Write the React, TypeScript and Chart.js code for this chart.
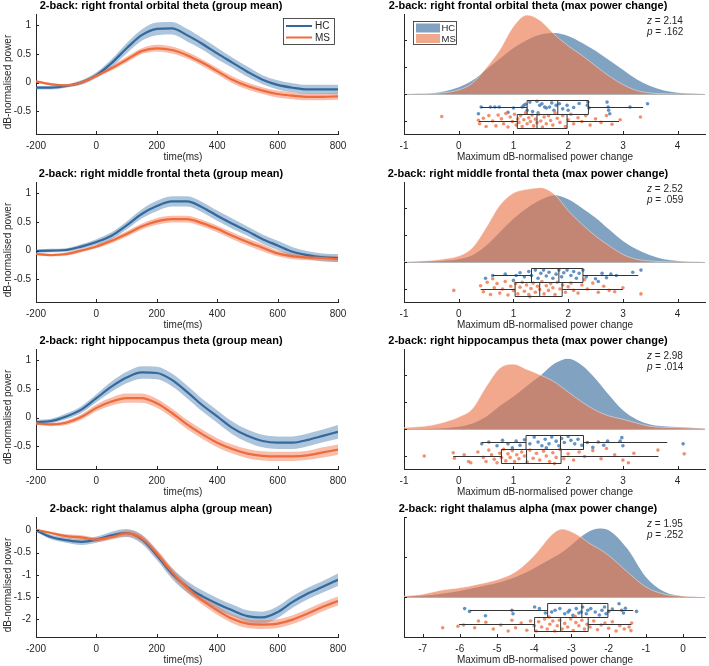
import { useEffect, useRef } from "react";
import { Chart, registerables } from "chart.js";

Chart.register(...registerables);

const FONT = '"Liberation Sans", Arial, Helvetica, sans-serif';
const TEXT = "#262626";
const HC_LINE = "#33699b";
const MS_LINE = "#ee6b3c";
const HC_BAND = "rgba(70,125,178,0.45)";
const MS_BAND = "rgba(240,120,80,0.48)";
const HC_DENS = "rgb(129,163,193)";
const MS_DENS = "rgba(233,118,74,0.635)";
const HC_DOT = "rgba(72,128,186,0.85)";
const MS_DOT = "rgba(240,125,85,0.85)";

// ---------- group-mean time courses ----------
const TIME_MS = [-200, -150, -100, -50, 0, 50, 100, 150, 200, 250, 300, 350, 400, 450, 500, 550, 600, 650, 700, 750, 800];
const TIME_TICKS = [-200, 0, 200, 400, 600, 800];
const THETA_Y_TICKS = [-0.5, 0, 0.5, 1];
const ALPHA_Y_TICKS = [-2, -1.5, -1, -0.5, 0];

const FO_HC = [-0.09, -0.09, -0.06, 0.0, 0.13, 0.34, 0.6, 0.83, 0.94, 0.95, 0.83, 0.68, 0.51, 0.35, 0.19, 0.05, -0.04, -0.09, -0.12, -0.12, -0.12];
const FO_HC_SEM = [0.03, 0.03, 0.03, 0.04, 0.05, 0.07, 0.09, 0.1, 0.11, 0.11, 0.11, 0.1, 0.1, 0.09, 0.09, 0.08, 0.08, 0.08, 0.08, 0.08, 0.08];
const FO_MS = [0.02, -0.03, -0.05, 0.0, 0.12, 0.25, 0.4, 0.55, 0.6, 0.57, 0.48, 0.35, 0.2, 0.05, -0.06, -0.14, -0.2, -0.23, -0.25, -0.25, -0.24];
const FO_MS_SEM = [0.02, 0.02, 0.02, 0.03, 0.03, 0.04, 0.05, 0.05, 0.06, 0.06, 0.06, 0.06, 0.06, 0.06, 0.06, 0.06, 0.06, 0.06, 0.06, 0.06, 0.06];

const MF_HC = [-0.01, 0.0, 0.01, 0.07, 0.15, 0.26, 0.44, 0.64, 0.78, 0.86, 0.86, 0.76, 0.61, 0.47, 0.34, 0.2, 0.09, -0.02, -0.08, -0.12, -0.13];
const MF_HC_SEM = [0.03, 0.03, 0.03, 0.04, 0.05, 0.06, 0.07, 0.08, 0.09, 0.09, 0.09, 0.09, 0.09, 0.09, 0.08, 0.08, 0.08, 0.08, 0.07, 0.07, 0.07];
const MF_MS = [-0.06, -0.08, -0.06, 0.0, 0.07, 0.17, 0.29, 0.42, 0.51, 0.55, 0.55, 0.48, 0.38, 0.26, 0.15, 0.05, -0.05, -0.1, -0.12, -0.13, -0.15];
const MF_MS_SEM = [0.02, 0.02, 0.03, 0.03, 0.03, 0.04, 0.05, 0.05, 0.06, 0.06, 0.06, 0.06, 0.06, 0.06, 0.06, 0.06, 0.05, 0.05, 0.05, 0.05, 0.05];

const HP_HC = [-0.08, -0.06, 0.02, 0.14, 0.34, 0.54, 0.7, 0.79, 0.78, 0.66, 0.45, 0.22, 0.02, -0.18, -0.32, -0.41, -0.44, -0.44, -0.39, -0.32, -0.25];
const HP_HC_SEM = [0.04, 0.04, 0.05, 0.06, 0.07, 0.09, 0.1, 0.11, 0.11, 0.11, 0.11, 0.11, 0.11, 0.11, 0.11, 0.11, 0.11, 0.11, 0.11, 0.11, 0.12];
const HP_MS = [-0.1, -0.12, -0.09, 0.01, 0.17, 0.28, 0.34, 0.34, 0.25, 0.08, -0.12, -0.29, -0.44, -0.55, -0.63, -0.67, -0.68, -0.68, -0.66, -0.61, -0.56];
const HP_MS_SEM = [0.03, 0.03, 0.04, 0.05, 0.06, 0.07, 0.08, 0.08, 0.08, 0.08, 0.08, 0.08, 0.08, 0.08, 0.08, 0.08, 0.08, 0.08, 0.08, 0.09, 0.09];

const TH_HC = [0.0, -0.15, -0.22, -0.26, -0.21, -0.11, -0.06, -0.2, -0.56, -0.97, -1.27, -1.48, -1.65, -1.8, -1.93, -1.96, -1.84, -1.61, -1.42, -1.27, -1.11];
const TH_HC_SEM = [0.03, 0.05, 0.06, 0.07, 0.07, 0.08, 0.09, 0.1, 0.11, 0.12, 0.13, 0.13, 0.13, 0.13, 0.13, 0.13, 0.13, 0.13, 0.13, 0.13, 0.14];
const TH_MS = [0.01, -0.06, -0.13, -0.16, -0.21, -0.15, -0.07, -0.18, -0.52, -0.94, -1.29, -1.57, -1.8, -1.99, -2.1, -2.12, -2.1, -2.01, -1.87, -1.72, -1.59];
const TH_MS_SEM = [0.02, 0.03, 0.04, 0.05, 0.05, 0.06, 0.07, 0.08, 0.09, 0.1, 0.1, 0.1, 0.1, 0.1, 0.1, 0.1, 0.1, 0.1, 0.1, 0.1, 0.1];

// ---------- max power change (raincloud) ----------
const THETA_X_TICKS = [-1, 0, 1, 2, 3, 4];
const ALPHA_X_TICKS = [-7, -6, -5, -4, -3, -2, -1, 0];
const DENSITY_TICKS = [-1, 0, 1, 2];

const THETA_DENS_X = [-1, -0.5, -0.25, 0, 0.25, 0.5, 0.75, 1, 1.25, 1.5, 1.75, 2, 2.25, 2.5, 2.75, 3, 3.25, 3.5, 3.75, 4, 4.5];
const FO_DENS_HC = [0, 0.03, 0.1, 0.25, 0.5, 0.9, 1.3, 1.7, 2.0, 2.2, 2.26, 2.15, 1.9, 1.6, 1.25, 0.9, 0.55, 0.3, 0.13, 0.05, 0];
const FO_DENS_MS = [0, 0.02, 0.05, 0.15, 0.4, 0.96, 1.63, 2.5, 2.92, 2.7, 2.2, 1.78, 1.43, 1.04, 0.66, 0.35, 0.13, 0.04, 0.01, 0, 0];
const MF_DENS_HC = [0, 0.02, 0.05, 0.1, 0.25, 0.6, 1.1, 1.6, 2.0, 2.3, 2.47, 2.32, 2.0, 1.64, 1.2, 0.78, 0.47, 0.25, 0.1, 0.04, 0];
const MF_DENS_MS = [0.01, 0.06, 0.12, 0.22, 0.53, 1.27, 2.1, 2.55, 2.69, 2.75, 2.5, 1.9, 1.4, 0.96, 0.6, 0.28, 0.1, 0.04, 0.01, 0, 0];
const HP_DENS_HC = [0, 0.01, 0.03, 0.08, 0.2, 0.45, 0.85, 1.2, 1.6, 1.99, 2.42, 2.6, 2.36, 1.86, 1.25, 0.69, 0.35, 0.17, 0.1, 0.07, 0.02];
const HP_DENS_MS = [0.05, 0.14, 0.26, 0.44, 0.75, 1.56, 2.25, 2.4, 2.2, 1.99, 1.74, 1.37, 1.0, 0.69, 0.48, 0.36, 0.22, 0.1, 0.06, 0.05, 0.02];
const ALPHA_DENS_X = [-7.5, -7, -6.5, -6, -5.5, -5, -4.5, -4, -3.5, -3.25, -3, -2.75, -2.5, -2.25, -2, -1.5, -1, -0.5, 0, 0.5];
const TH_DENS_HC = [0.01, 0.03, 0.08, 0.15, 0.25, 0.35, 0.5, 0.72, 0.98, 1.12, 1.3, 1.5, 1.65, 1.71, 1.67, 1.21, 0.5, 0.13, 0.02, 0];
const TH_DENS_MS = [0.02, 0.07, 0.17, 0.23, 0.32, 0.43, 0.63, 1.04, 1.58, 1.7, 1.63, 1.5, 1.33, 1.2, 1.04, 0.63, 0.25, 0.07, 0.02, 0];

// box stats: [lower whisker, q1, median, q3, upper whisker]
const FO_BOX_HC = [0.4, 1.25, 1.81, 2.37, 3.37];
const FO_BOX_MS = [0.37, 1.07, 1.43, 1.98, 2.93];
const MF_BOX_HC = [0.62, 1.33, 1.83, 2.27, 3.28];
const MF_BOX_MS = [0.4, 1.03, 1.48, 1.89, 3.0];
const HP_BOX_HC = [0.42, 1.23, 1.86, 2.28, 3.81];
const HP_BOX_MS = [-0.1, 0.78, 1.24, 1.87, 3.65];
const TH_BOX_HC = [-5.73, -3.64, -2.72, -2.02, -1.34];
const TH_BOX_MS = [-6.02, -3.99, -3.29, -2.55, -1.39];

// individual participants: [value, jitter]
const FO_PTS_HC = [[0.36, -0.73], [0.41, -0.48], [0.58, -0.48], [0.66, -0.48], [0.74, -0.48], [0.9, -0.68], [1.0, -0.52], [1.16, -0.48], [1.19, -0.42], [1.22, -0.38], [1.25, -0.6], [1.3, -0.3], [1.35, -0.65], [1.43, -0.27], [1.45, -0.7], [1.48, -0.42], [1.52, -0.36], [1.57, -0.48], [1.6, -0.52], [1.66, -0.48], [1.7, -0.33], [1.74, -0.6], [1.78, -0.42], [1.84, -0.36], [1.9, -0.55], [1.98, -0.42], [2.0, -0.6], [2.1, -0.5], [2.2, -0.35], [2.35, -0.42], [2.36, -0.3], [2.38, -0.52], [2.71, -0.3], [2.73, -0.48], [2.74, -0.6], [2.76, -0.73], [3.13, -0.48], [3.45, -0.36]];
const FO_PTS_MS = [[-0.31, -0.83], [0.36, -0.97], [0.38, -1.1], [0.45, -0.9], [0.5, -1.2], [0.55, -0.8], [0.62, -1.0], [0.68, -1.18], [0.72, -0.78], [0.78, -0.92], [0.82, -1.1], [0.86, -0.72], [0.9, -1.22], [0.94, -0.85], [0.98, -1.02], [1.02, -0.75], [1.05, -1.15], [1.08, -0.92], [1.1, -1.05], [1.13, -0.8], [1.16, -1.2], [1.19, -0.95], [1.22, -0.7], [1.25, -1.1], [1.28, -0.88], [1.31, -1.02], [1.34, -0.78], [1.37, -1.18], [1.4, -0.93], [1.43, -1.06], [1.46, -0.75], [1.5, -1.0], [1.53, -1.22], [1.56, -0.85], [1.6, -1.1], [1.64, -0.8], [1.68, -0.98], [1.72, -1.15], [1.76, -0.7], [1.8, -0.9], [1.85, -1.05], [1.9, -0.8], [1.95, -1.2], [2.0, -0.95], [2.05, -0.75], [2.1, -1.1], [2.18, -0.88], [2.25, -1.02], [2.32, -0.8], [2.4, -1.15], [2.5, -0.92], [2.6, -1.05], [2.7, -0.8], [2.8, -1.12], [2.95, -0.95], [3.32, -0.85]];
const MF_PTS_HC = [[0.49, -0.6], [0.62, -0.5], [0.85, -0.45], [1.0, -0.68], [1.05, -0.5], [1.12, -0.4], [1.2, -0.55], [1.28, -0.35], [1.33, -0.5], [1.4, -0.3], [1.45, -0.6], [1.5, -0.42], [1.55, -0.3], [1.6, -0.52], [1.65, -0.38], [1.72, -0.6], [1.78, -0.45], [1.83, -0.3], [1.88, -0.55], [1.92, -0.4], [1.98, -0.3], [2.05, -0.5], [2.1, -0.35], [2.15, -0.6], [2.2, -0.42], [2.27, -0.3], [2.33, -0.55], [2.5, -0.62], [2.55, -0.72], [2.62, -0.42], [2.7, -0.58], [2.78, -0.45], [2.88, -0.5], [3.18, -0.38], [3.33, -0.3]];
const MF_PTS_MS = [[-0.09, -1.05], [0.4, -0.88], [0.45, -1.1], [0.52, -0.75], [0.58, -1.2], [0.62, -0.62], [0.65, -0.95], [0.7, -0.8], [0.75, -1.15], [0.8, -1.0], [0.85, -0.72], [0.9, -1.22], [0.95, -0.9], [1.0, -1.05], [1.04, -0.8], [1.08, -1.18], [1.12, -0.93], [1.16, -0.75], [1.2, -1.08], [1.24, -0.85], [1.28, -1.2], [1.3, -1.28], [1.32, -0.98], [1.36, -0.78], [1.4, -1.12], [1.44, -0.9], [1.48, -1.02], [1.52, -0.72], [1.56, -1.18], [1.6, -0.88], [1.64, -1.05], [1.68, -0.8], [1.72, -0.95], [1.76, -1.2], [1.8, -0.75], [1.85, -1.0], [1.9, -0.85], [1.95, -1.12], [2.0, -0.92], [2.05, -0.78], [2.1, -1.05], [2.18, -1.15], [2.25, -0.85], [2.3, -0.65], [2.35, -1.0], [2.45, -0.78], [2.55, -1.12], [2.65, -0.9], [2.75, -1.05], [2.85, -1.1], [3.0, -0.95], [3.33, -1.18]];
const HP_PTS_HC = [[0.42, -0.55], [0.55, -0.48], [0.7, -0.62], [0.8, -0.42], [0.9, -0.55], [0.98, -0.7], [1.05, -0.45], [1.12, -0.6], [1.2, -0.4], [1.3, -0.55], [1.38, -0.3], [1.45, -0.48], [1.52, -0.62], [1.58, -0.38], [1.6, -0.7], [1.65, -0.55], [1.7, -0.3], [1.78, -0.45], [1.83, -0.62], [1.88, -0.35], [1.93, -0.5], [2.0, -0.28], [2.05, -0.42], [2.12, -0.55], [2.18, -0.38], [2.25, -0.6], [2.35, -0.5], [2.45, -0.68], [2.55, -0.48], [2.65, -0.6], [2.72, -0.45], [2.95, -0.45], [2.98, -0.32], [3.0, -0.62], [4.1, -0.55]];
const HP_PTS_MS = [[-0.63, -1.0], [-0.1, -0.88], [-0.08, -1.08], [0.1, -0.95], [0.18, -1.2], [0.22, -1.25], [0.35, -0.85], [0.45, -1.05], [0.5, -1.2], [0.55, -0.78], [0.6, -0.95], [0.65, -1.12], [0.7, -1.25], [0.75, -0.9], [0.78, -1.05], [0.82, -0.75], [0.86, -1.18], [0.9, -0.92], [0.94, -1.05], [0.98, -0.8], [1.02, -1.2], [1.06, -0.95], [1.1, -1.1], [1.15, -0.85], [1.2, -1.0], [1.25, -1.22], [1.3, -0.78], [1.36, -1.08], [1.42, -0.9], [1.48, -1.15], [1.55, -0.82], [1.6, -1.0], [1.66, -1.2], [1.72, -0.88], [1.75, -1.28], [1.78, -1.05], [1.85, -0.75], [1.92, -1.1], [2.0, -0.92], [2.1, -1.15], [2.2, -0.85], [2.3, -1.02], [2.45, -0.8], [2.6, -1.1], [2.7, -0.72], [2.85, -0.95], [3.0, -1.15], [3.1, -1.25], [3.2, -0.9], [3.64, -0.78], [4.12, -0.92]];
const TH_PTS_HC = [[-5.87, -0.29], [-5.74, -0.36], [-5.31, -0.47], [-4.6, -0.33], [-4.57, -0.42], [-3.99, -0.25], [-3.86, -0.29], [-3.7, -0.4], [-3.53, -0.375], [-3.44, -0.33], [-3.31, -0.29], [-3.18, -0.42], [-3.09, -0.375], [-3.05, -0.33], [-2.96, -0.46], [-2.87, -0.29], [-2.8, -0.4], [-2.74, -0.375], [-2.7, -0.25], [-2.6, -0.42], [-2.56, -0.33], [-2.48, -0.29], [-2.36, -0.375], [-2.25, -0.45], [-2.18, -0.33], [-2.11, -0.25], [-2.07, -0.42], [-2.0, -0.36], [-1.9, -0.3], [-1.72, -0.17], [-1.65, -0.33], [-1.6, -0.4], [-1.55, -0.28], [-1.25, -0.36]];
const TH_PTS_MS = [[-6.46, -0.77], [-6.05, -0.73], [-5.9, -0.7], [-5.6, -0.77], [-5.5, -0.6], [-5.3, -0.63], [-5.1, -0.8], [-4.9, -0.7], [-4.7, -0.85], [-4.6, -0.58], [-4.5, -0.77], [-4.35, -0.65], [-4.2, -0.83], [-4.1, -0.6], [-4.0, -0.72], [-3.95, -0.85], [-3.88, -0.62], [-3.8, -0.75], [-3.72, -0.55], [-3.65, -0.8], [-3.6, -0.5], [-3.58, -0.68], [-3.5, -0.6], [-3.45, -0.85], [-3.38, -0.72], [-3.32, -0.58], [-3.25, -0.8], [-3.18, -0.66], [-3.1, -0.75], [-3.02, -0.55], [-2.95, -0.84], [-2.9, -0.48], [-2.88, -0.64], [-2.8, -0.72], [-2.72, -0.58], [-2.65, -0.8], [-2.58, -0.68], [-2.5, -0.75], [-2.4, -0.6], [-2.3, -0.82], [-2.2, -0.7], [-2.1, -0.65], [-2.0, -0.78], [-1.9, -0.62], [-1.8, -0.85], [-1.7, -0.72], [-1.58, -0.8], [-1.45, -0.75], [-1.4, -0.84], [-1.38, -0.65]];

const GM_TITLES = [
  "2-back: right frontal orbital theta (group mean)",
  "2-back: right middle frontal theta (group mean)",
  "2-back: right hippocampus theta (group mean)",
  "2-back: right thalamus alpha (group mean)",
];
const MP_TITLES = [
  "2-back: right frontal orbital theta (max power change)",
  "2-back: right middle frontal theta (max power change)",
  "2-back: right hippocampus theta (max power change)",
  "2-back: right thalamus alpha (max power change)",
];
const Z_VALUES = ["2.14", "2.52", "2.98", "1.95"];
const P_VALUES = [".162", ".059", ".014", ".252"];
const GROUPS = ["HC", "MS"];

// ---------- layout ----------
const ROW_TOPS = [14, 182, 349, 517];
const TOP_PAD = 16;
const PLOT_H = 120;
const XAXIS_H = 30;
const CANVAS_H = TOP_PAD + PLOT_H + XAXIS_H;
const LEFT_W = 355;
const RIGHT_X = 360;
const RIGHT_W = 349;

const GROUP_PANELS = [
  { hc: FO_HC, hcSem: FO_HC_SEM, ms: FO_MS, msSem: FO_MS_SEM, yMin: -0.9, yMax: 1.2, yTicks: THETA_Y_TICKS },
  { hc: MF_HC, hcSem: MF_HC_SEM, ms: MF_MS, msSem: MF_MS_SEM, yMin: -0.9, yMax: 1.2, yTicks: THETA_Y_TICKS },
  { hc: HP_HC, hcSem: HP_HC_SEM, ms: HP_MS, msSem: HP_MS_SEM, yMin: -0.9, yMax: 1.2, yTicks: THETA_Y_TICKS },
  { hc: TH_HC, hcSem: TH_HC_SEM, ms: TH_MS, msSem: TH_MS_SEM, yMin: -2.4, yMax: 0.3, yTicks: ALPHA_Y_TICKS },
];

const POWER_PANELS = [
  { dx: THETA_DENS_X, dHc: FO_DENS_HC, dMs: FO_DENS_MS, bHc: FO_BOX_HC, bMs: FO_BOX_MS, pHc: FO_PTS_HC, pMs: FO_PTS_MS, xMin: -1, xMax: 4.5, xTicks: THETA_X_TICKS, yMin: -1.48, yMax: 2.96 },
  { dx: THETA_DENS_X, dHc: MF_DENS_HC, dMs: MF_DENS_MS, bHc: MF_BOX_HC, bMs: MF_BOX_MS, pHc: MF_PTS_HC, pMs: MF_PTS_MS, xMin: -1, xMax: 4.5, xTicks: THETA_X_TICKS, yMin: -1.48, yMax: 2.96 },
  { dx: THETA_DENS_X, dHc: HP_DENS_HC, dMs: HP_DENS_MS, bHc: HP_BOX_HC, bMs: HP_BOX_MS, pHc: HP_PTS_HC, pMs: HP_PTS_MS, xMin: -1, xMax: 4.5, xTicks: THETA_X_TICKS, yMin: -1.48, yMax: 2.96 },
  { dx: ALPHA_DENS_X, dHc: TH_DENS_HC, dMs: TH_DENS_MS, bHc: TH_BOX_HC, bMs: TH_BOX_MS, pHc: TH_PTS_HC, pMs: TH_PTS_MS, xMin: -7.5, xMax: 0.59, xTicks: ALPHA_X_TICKS, yMin: -1, yMax: 2 },
];

const tickFont = { family: FONT, size: 10 };

function inwardTicks(chart: any, xTicks: number[], yTicks: number[]) {
  const { ctx, chartArea, scales } = chart;
  ctx.save();
  ctx.strokeStyle = TEXT;
  ctx.lineWidth = 1;
  ctx.beginPath();
  xTicks.forEach((v) => {
    const px = Math.round(scales.x.getPixelForValue(v)) + 0.5;
    ctx.moveTo(px, chartArea.bottom);
    ctx.lineTo(px, chartArea.bottom - 3);
  });
  yTicks.forEach((v) => {
    const py = Math.round(scales.y.getPixelForValue(v)) + 0.5;
    ctx.moveTo(chartArea.left, py);
    ctx.lineTo(chartArea.left + 3, py);
  });
  ctx.stroke();
  ctx.restore();
}

function drawText(ctx: any, s: string, x: number, y: number, font: string, color: string, align = "center") {
  ctx.font = font;
  ctx.fillStyle = color;
  ctx.textAlign = align;
  ctx.textBaseline = "middle";
  ctx.fillText(s, x, y);
}

const noGrid = { display: false, drawTicks: false, tickLength: 0 };

function makeGroupChart(canvas: HTMLCanvasElement, row: number) {
  const p = GROUP_PANELS[row];
  const pts = (ys: number[]) => TIME_MS.map((x, i) => ({ x, y: ys[i] }));
  const shift = (m: number[], s: number[], k: number) => m.map((v, i) => v + k * s[i]);
  const plain = { borderColor: "transparent", pointRadius: 0 };
  const decor = {
    id: "decor" + row,
    afterDraw(chart: any) {
      const { ctx, chartArea } = chart;
      inwardTicks(chart, TIME_TICKS, p.yTicks);
      ctx.save();
      drawText(ctx, GM_TITLES[row], 161, TOP_PAD - 8, `bold 11px ${FONT}`, "#000");
      drawText(ctx, "time(ms)", (chartArea.left + chartArea.right) / 2 - 4, chartArea.bottom + 23, `10px ${FONT}`, TEXT);
      ctx.save();
      ctx.translate(8, (chartArea.top + chartArea.bottom) / 2 + 8);
      ctx.rotate(-Math.PI / 2);
      drawText(ctx, "dB-normalised power", 0, 0, `10px ${FONT}`, TEXT);
      ctx.restore();
      if (row === 0) {
        const bx = 283, by = chartArea.top + 4, bw = 51, bh = 26;
        ctx.fillStyle = "#fff";
        ctx.fillRect(bx, by, bw, bh);
        ctx.strokeStyle = TEXT;
        ctx.lineWidth = 0.8;
        ctx.strokeRect(bx + 0.5, by + 0.5, bw, bh);
        [HC_LINE, MS_LINE].forEach((c, i) => {
          const ly = by + 8 + i * 11.5;
          ctx.strokeStyle = c;
          ctx.lineWidth = 2;
          ctx.beginPath();
          ctx.moveTo(bx + 3, ly);
          ctx.lineTo(bx + 29, ly);
          ctx.stroke();
          drawText(ctx, GROUPS[i], bx + 32, ly + 0.5, `10px ${FONT}`, TEXT, "left");
        });
      }
      ctx.restore();
    },
  };
  return new Chart(canvas, {
    type: "line",
    data: {
      datasets: [
        { data: pts(shift(p.hc, p.hcSem, 1)), ...plain, fill: false, order: 5 },
        { data: pts(shift(p.hc, p.hcSem, -1)), ...plain, fill: "-1", backgroundColor: HC_BAND, order: 5 },
        { data: pts(shift(p.ms, p.msSem, 1)), ...plain, fill: false, order: 4 },
        { data: pts(shift(p.ms, p.msSem, -1)), ...plain, fill: "-1", backgroundColor: MS_BAND, order: 4 },
        { data: pts(p.hc), borderColor: HC_LINE, borderWidth: 2.2, pointRadius: 0, fill: false, order: 2 },
        { data: pts(p.ms), borderColor: MS_LINE, borderWidth: 2.2, pointRadius: 0, fill: false, order: 1 },
      ],
    } as any,
    options: {
      responsive: false,
      animation: false,
      devicePixelRatio: 1,
      layout: { padding: { top: TOP_PAD, left: 0, right: LEFT_W - 338, bottom: 0 } },
      elements: { line: { cubicInterpolationMode: "monotone" } },
      plugins: { legend: { display: false }, tooltip: { enabled: false } },
      scales: {
        x: {
          type: "linear", min: -200, max: 800,
          grid: noGrid,
          border: { display: true, color: TEXT, width: 1 },
          ticks: { color: TEXT, font: tickFont, padding: 6, maxRotation: 0, autoSkip: false, callback: (v: any) => String(v) },
          afterBuildTicks: (s: any) => { s.ticks = TIME_TICKS.map((value) => ({ value })); },
          afterFit: (s: any) => { s.height = XAXIS_H; },
        },
        y: {
          type: "linear", min: p.yMin, max: p.yMax,
          grid: noGrid,
          border: { display: true, color: TEXT, width: 1 },
          ticks: { color: TEXT, font: tickFont, padding: 5, autoSkip: false, callback: (v: any) => String(v) },
          afterBuildTicks: (s: any) => { s.ticks = p.yTicks.map((value) => ({ value })); },
          afterFit: (s: any) => { s.width = 36; },
        },
      },
    } as any,
    plugins: [decor],
  });
}

function makePowerChart(canvas: HTMLCanvasElement, row: number) {
  const p = POWER_PANELS[row];
  const dens = (ys: number[]) => p.dx.map((x, i) => ({ x, y: ys[i] }));
  const dots = (arr: number[][]) => arr.map(([x, y]) => ({ x, y }));
  const decor = {
    id: "rain" + row,
    afterDatasetsDraw(chart: any) {
      const { ctx, chartArea, scales } = chart;
      const y0 = scales.y.getPixelForValue(0);
      ctx.save();
      ctx.strokeStyle = "#b5b5b5";
      ctx.lineWidth = 1;
      ctx.beginPath();
      ctx.moveTo(chartArea.left, Math.round(y0) + 0.5);
      ctx.lineTo(chartArea.right, Math.round(y0) + 0.5);
      ctx.stroke();
      ctx.strokeStyle = "#333";
      ctx.lineWidth = 1;
      [p.bHc, p.bMs].forEach((b, i) => {
        const t = Math.round(y0) + 6 + i * 14 + 0.5;
        const c = t + 7;
        const X = b.map((v) => scales.x.getPixelForValue(v));
        ctx.beginPath();
        ctx.moveTo(X[0], c); ctx.lineTo(X[1], c);
        ctx.moveTo(X[3], c); ctx.lineTo(X[4], c);
        ctx.moveTo(X[2], t); ctx.lineTo(X[2], t + 14);
        ctx.rect(X[1], t, X[3] - X[1], 14);
        ctx.stroke();
      });
      ctx.restore();
    },
    afterDraw(chart: any) {
      const { ctx, chartArea } = chart;
      inwardTicks(chart, p.xTicks, DENSITY_TICKS);
      ctx.save();
      drawText(ctx, MP_TITLES[row], 528 - RIGHT_X, TOP_PAD - 8, `bold 11px ${FONT}`, "#000");
      drawText(ctx, "Maximum dB-normalised power change", 545 - RIGHT_X, chartArea.bottom + 23, `10px ${FONT}`, TEXT);
      const ax = 647 - RIGHT_X;
      [["z", Z_VALUES[row]], ["p", P_VALUES[row]]].forEach(([sym, val], i) => {
        const ly = chartArea.top + 7 + i * 11;
        drawText(ctx, sym, ax, ly, `italic 10px ${FONT}`, TEXT, "left");
        const w = ctx.measureText(sym).width;
        drawText(ctx, " = " + val, ax + w, ly, `10px ${FONT}`, TEXT, "left");
      });
      if (row === 0) {
        const bx = 413 - RIGHT_X, by = chartArea.top + 7, bw = 43, bh = 23;
        ctx.fillStyle = "#fff";
        ctx.fillRect(bx, by, bw, bh);
        ctx.strokeStyle = TEXT;
        ctx.lineWidth = 0.8;
        ctx.strokeRect(bx + 0.5, by + 0.5, bw, bh);
        [HC_DENS, MS_DENS].forEach((c, i) => {
          const py = by + 2.5 + i * 10.5;
          ctx.fillStyle = c;
          ctx.fillRect(bx + 3, py, 24, 9);
          drawText(ctx, GROUPS[i], bx + 28.5, py + 5, `9.5px ${FONT}`, TEXT, "left");
        });
      }
      ctx.restore();
    },
  };
  return new Chart(canvas, {
    type: "line",
    data: {
      datasets: [
        { data: dens(p.dHc), fill: "origin", backgroundColor: HC_DENS, borderColor: "transparent", pointRadius: 0, order: 4 },
        { data: dens(p.dMs), fill: "origin", backgroundColor: MS_DENS, borderColor: "rgba(255,255,255,0.55)", borderWidth: 0.8, pointRadius: 0, order: 3 },
        { type: "scatter", data: dots(p.pHc), backgroundColor: HC_DOT, borderWidth: 0, pointRadius: 1.8, showLine: false, order: 2 },
        { type: "scatter", data: dots(p.pMs), backgroundColor: MS_DOT, borderWidth: 0, pointRadius: 1.8, showLine: false, order: 1 },
      ],
    } as any,
    options: {
      responsive: false,
      animation: false,
      devicePixelRatio: 1,
      layout: { padding: { top: TOP_PAD, left: 0, right: 0, bottom: 0 } },
      elements: { line: { cubicInterpolationMode: "monotone" } },
      plugins: { legend: { display: false }, tooltip: { enabled: false } },
      scales: {
        x: {
          type: "linear", min: p.xMin, max: p.xMax,
          grid: noGrid,
          border: { display: true, color: TEXT, width: 1 },
          ticks: { color: TEXT, font: tickFont, padding: 6, maxRotation: 0, autoSkip: false, callback: (v: any) => String(v) },
          afterBuildTicks: (s: any) => { s.ticks = p.xTicks.map((value) => ({ value })); },
          afterFit: (s: any) => { s.height = XAXIS_H; },
        },
        y: {
          type: "linear", min: p.yMin, max: p.yMax,
          grid: noGrid,
          border: { display: true, color: TEXT, width: 1 },
          ticks: { display: false },
          afterBuildTicks: (s: any) => { s.ticks = DENSITY_TICKS.map((value) => ({ value })); },
          afterFit: (s: any) => { s.width = 44; },
        },
      },
    } as any,
    plugins: [decor],
  });
}

export default function App() {
  const refs = useRef<(HTMLCanvasElement | null)[]>([]);
  useEffect(() => {
    const charts: Chart[] = [];
    for (let r = 0; r < 4; r++) {
      charts.push(makeGroupChart(refs.current[r]!, r));
      charts.push(makePowerChart(refs.current[4 + r]!, r));
    }
    return () => charts.forEach((c) => c.destroy());
  }, []);
  const canvases = [];
  for (let i = 0; i < 8; i++) {
    const r = i % 4;
    const left = i < 4 ? 0 : RIGHT_X;
    const w = i < 4 ? LEFT_W : RIGHT_W;
    canvases.push(
      <canvas
        key={i}
        ref={(el) => { refs.current[i] = el; }}
        width={w}
        height={CANVAS_H}
        style={{ position: "absolute", left, top: ROW_TOPS[r] - TOP_PAD, width: w, height: CANVAS_H }}
      />
    );
  }
  return (
    <div style={{ position: "absolute", left: 0, top: 0, width: 709, height: 666, background: "#fff", overflow: "hidden" }}>
      {canvases}
    </div>
  );
}
